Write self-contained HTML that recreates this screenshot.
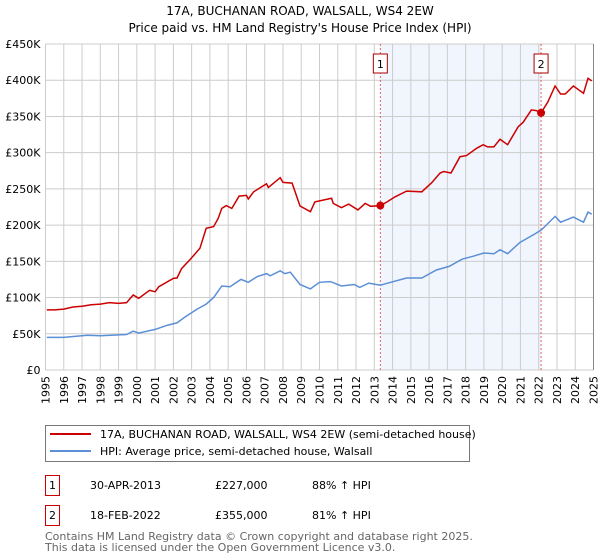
<!DOCTYPE html>
<html><head><meta charset="utf-8"><style>
body{margin:0;background:#fff;font-family:"DejaVu Sans","Liberation Sans",sans-serif;}
svg{display:block}
</style></head><body>
<svg width="600" height="560" xmlns="http://www.w3.org/2000/svg" font-family="DejaVu Sans, Liberation Sans, sans-serif">
<text x="300" y="15" text-anchor="middle" font-size="12" fill="#000">17A, BUCHANAN ROAD, WALSALL, WS4 2EW</text>
<text x="300" y="32" text-anchor="middle" font-size="12" fill="#000">Price paid vs. HM Land Registry's House Price Index (HPI)</text>
<g id="plot"></g>
<g>
<rect x="45.5" y="425.5" width="424" height="36" fill="#fff" stroke="#777"/>
<line x1="50" y1="434" x2="91" y2="434" stroke="#cc0000" stroke-width="2"/>
<text x="100" y="438" font-size="11">17A, BUCHANAN ROAD, WALSALL, WS4 2EW (semi-detached house)</text>
<line x1="50" y1="451" x2="91" y2="451" stroke="#5b8fd6" stroke-width="2"/>
<text x="100" y="455" font-size="11">HPI: Average price, semi-detached house, Walsall</text>
</g>
<g font-size="11">
<rect x="45.5" y="475.5" width="14" height="20" fill="#fff" stroke="#cc0000"/>
<text x="52.5" y="489" text-anchor="middle">1</text>
<text x="90" y="489">30-APR-2013</text>
<text x="215" y="489">£227,000</text>
<text x="312" y="489">88% ↑ HPI</text>
<rect x="45.5" y="505.5" width="14" height="20" fill="#fff" stroke="#cc0000"/>
<text x="52.5" y="519" text-anchor="middle">2</text>
<text x="90" y="519">18-FEB-2022</text>
<text x="215" y="519">£355,000</text>
<text x="312" y="519">81% ↑ HPI</text>
</g>
<text x="45" y="540" font-size="11" fill="#666">Contains HM Land Registry data © Crown copyright and database right 2025.</text>
<text x="45" y="551" font-size="11" fill="#666">This data is licensed under the Open Government Licence v3.0.</text>
</svg>
<script>
const yTicks=[0,50,100,150,200,250,300,350,400,450];
const yTickLabels=["£0","£50K","£100K","£150K","£200K","£250K","£300K","£350K","£400K","£450K"];
const xYears=[1995,1996,1997,1998,1999,2000,2001,2002,2003,2004,2005,2006,2007,2008,2009,2010,2011,2012,2013,2014,2015,2016,2017,2018,2019,2020,2021,2022,2023,2024,2025];
const saleDates=[2013.33,2022.13];
const salePrices=[227,355];
const saleLabels=["1","2"];
const redT=[1995.07,1995.5,1996,1996.5,1997,1997.5,1998,1998.5,1999,1999.44,1999.8,2000.1,2000.7,2001.0,2001.2,2002.0,2002.2,2002.45,2002.9,2003.45,2003.8,2004.2,2004.45,2004.65,2004.9,2005.2,2005.6,2006.0,2006.1,2006.4,2006.9,2007.1,2007.2,2007.85,2008.0,2008.5,2008.93,2009.5,2009.75,2010.1,2010.66,2010.75,2011.2,2011.6,2012.1,2012.5,2012.8,2013.33,2013.7,2014.13,2014.77,2015.6,2016.14,2016.6,2016.8,2017.2,2017.69,2018.05,2018.6,2018.96,2019.2,2019.55,2019.88,2020.3,2020.88,2021.15,2021.6,2021.87,2022.13,2022.5,2022.9,2023.2,2023.45,2023.9,2024.45,2024.7,2024.9];
const redV=[83,83,84,87,88,90,91,93,92,93,103.5,99,110,108,115,126.5,127,140,152,168,195.6,198,209,223,227,223,240,241,236,246,254,257,252,265.5,259,258,226.4,218.5,232,234,237,230,224,229,221,230,226,227,232,239,247,246,258.5,272,274,272,294.5,296,306,311,308,308,318.5,311,335.8,342,359,358,355,370,392,381,381,392,382,402.6,399];
const blueT=[1995.07,1996,1997.3,1998,1999.44,1999.8,2000.1,2001.0,2001.7,2002.2,2002.6,2003.3,2003.8,2004.2,2004.65,2005.1,2005.7,2006.1,2006.6,2007.1,2007.3,2007.85,2008.1,2008.4,2008.93,2009.5,2010.0,2010.6,2011.2,2011.9,2012.2,2012.7,2013.33,2013.9,2014.77,2015.6,2016.4,2017.1,2017.8,2018.4,2019.0,2019.55,2019.88,2020.3,2020.97,2021.7,2022.13,2022.9,2023.2,2023.9,2024.45,2024.7,2024.9];
const blueV=[45,45,48,47.3,49,53.5,51,56,62,65,72.5,84,91,100,116,115,125,121,129,133,130,137,133,135,118,112,121,122,116,118,114,120,117,121,127,127,138,143,153,157,161.5,160.5,166,160.5,176,186.5,193,212,204,211,204,218,215];

const NS="http://www.w3.org/2000/svg";
const X0=45.5,X1=593.5,Y0=370,Y1=44;
function xs(t){return X0+(t-1995)/30*(X1-X0);}
function ys(v){return Y0-v/450*(Y0-Y1);}
const g=document.getElementById('plot');
function mk(tag,attrs){const e=document.createElementNS(NS,tag);for(const k in attrs)e.setAttribute(k,attrs[k]);g.appendChild(e);return e;}

let e=mk('rect',{x:xs(saleDates[0]),y:Y1,width:xs(saleDates[1])-xs(saleDates[0]),height:Y0-Y1,fill:'#eef3fc',opacity:0.8});



yTicks.forEach((v,i)=>{
 let l=mk('line',{x1:X0,x2:X1,y1:ys(v),y2:ys(v),stroke:'#cccccc','stroke-width':1});
 
 
 let t=mk('text',{x:X0-5,y:ys(v)+4,'text-anchor':'end','font-size':11,fill:'#000'});
 t.textContent=yTickLabels[i];
 
 
});
xYears.forEach(yr=>{
 let l=mk('line',{x1:xs(yr),x2:xs(yr),y1:Y1,y2:Y0,stroke:'#cccccc','stroke-width':1});
 
 
 let t=mk('text',{x:0,y:0,'text-anchor':'end','font-size':11,fill:'#000',transform:`translate(${xs(yr)+4},${Y0+6}) rotate(-90)`});
 t.textContent=yr;
 
 
});

saleDates.forEach((d,i)=>{
 let l=mk('line',{x1:xs(d),x2:xs(d),y1:Y1,y2:Y0,stroke:'#e06060','stroke-width':1,'stroke-dasharray':'2,2'});
 
 
 let r=mk('rect',{x:xs(d)-7,y:54,width:14,height:19,fill:'#fff',stroke:'#aa0000'});
 
 
 let t=mk('text',{x:xs(d),y:68,'text-anchor':'middle','font-size':11,fill:'#000'});
 t.textContent=saleLabels[i];
 
 
});

function pts(T,V){return T.map((t,i)=>xs(t).toFixed(1)+','+ys(V[i]).toFixed(1)).join(' ');}
let pb=mk('polyline',{points:pts(blueT,blueV),fill:'none',stroke:'#5b8fd6','stroke-width':1.5});


let pr=mk('polyline',{points:pts(redT,redV),fill:'none',stroke:'#cc0000','stroke-width':1.5});


saleDates.forEach((d,i)=>{
 let c=mk('circle',{cx:xs(d),cy:ys(salePrices[i]),r:4,fill:'#cc0000'});
 
 
});
let ax=mk('line',{x1:X1,x2:X1,y1:Y1,y2:Y0,stroke:'#888','stroke-width':1});


</script>
</body></html>
